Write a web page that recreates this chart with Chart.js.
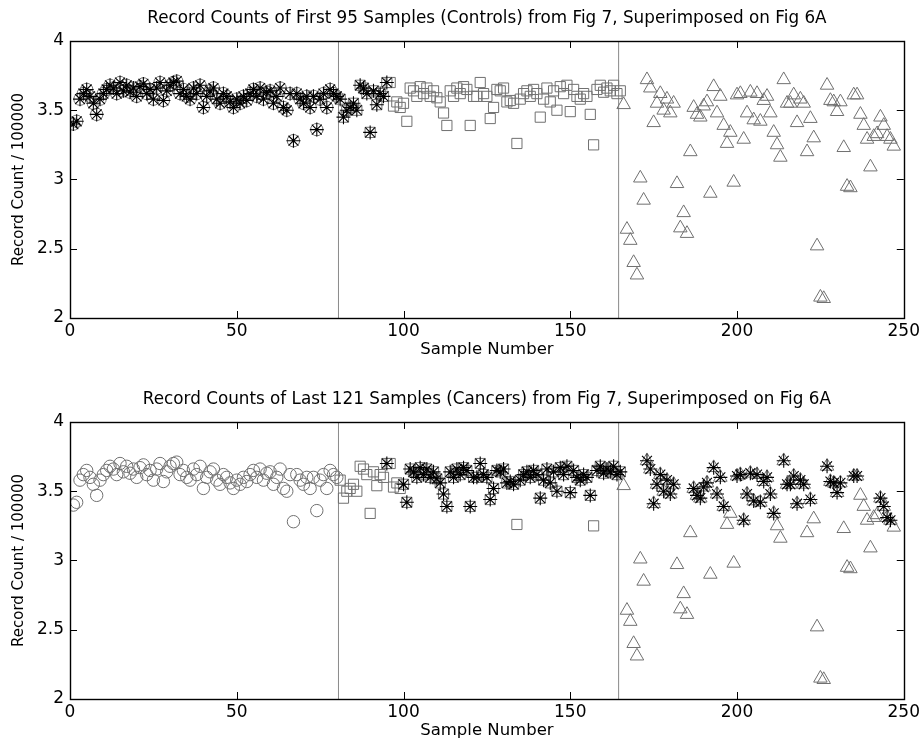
<!DOCTYPE html>
<html>
<head>
<meta charset="utf-8">
<script src="https://cdn.jsdelivr.net/npm/chart.js@4.4.1/dist/chart.umd.min.js"></script>
<style>
html, body { margin: 0; padding: 0; background: #fff; }
.panel { position: absolute; left: 0; width: 923px; height: 367px; }
</style>
</head>
<body>
<div class="panel" style="top:0"><canvas id="topChart"></canvas></div>
<div class="panel" style="top:381px"><canvas id="bottomChart"></canvas></div>
<script>
// Fig 6A record counts (units of 100000)
const circleStart = 1;     // samples 1..80 (circles)
const circleValues = [
    3.40, 3.42, 3.58, 3.62, 3.65, 3.60, 3.55, 3.47, 3.58, 3.62,
    3.65, 3.68, 3.66, 3.62, 3.70, 3.64, 3.68, 3.63, 3.66, 3.60,
    3.67, 3.69, 3.62, 3.65, 3.58, 3.66, 3.70, 3.57, 3.64, 3.68,
    3.70, 3.71, 3.62, 3.65, 3.60, 3.58, 3.66, 3.62, 3.68, 3.52,
    3.60, 3.64, 3.66, 3.58, 3.55, 3.62, 3.60, 3.56, 3.52, 3.58,
    3.55, 3.60, 3.57, 3.62, 3.65, 3.60, 3.66, 3.58, 3.63, 3.64,
    3.55, 3.60, 3.66, 3.52, 3.50, 3.62, 3.28, 3.62, 3.58, 3.55,
    3.60, 3.52, 3.60, 3.36, 3.58, 3.62, 3.52, 3.65, 3.62, 3.60
];
const squareStart = 81;    // samples 81..165 (squares)
const squareValues = [
    3.58, 3.45, 3.50, 3.52, 3.55, 3.50, 3.68, 3.66, 3.62, 3.34,
    3.64, 3.54, 3.62, 3.60, 3.70, 3.70, 3.53, 3.56, 3.52, 3.55,
    3.42, 3.66, 3.64, 3.60, 3.67, 3.62, 3.66, 3.60, 3.64, 3.59,
    3.56, 3.48, 3.39, 3.64, 3.60, 3.66, 3.62, 3.67, 3.65, 3.39,
    3.60, 3.60, 3.70, 3.62, 3.60, 3.44, 3.52, 3.65, 3.64, 3.66,
    3.56, 3.57, 3.55, 3.26, 3.58, 3.62, 3.64, 3.60, 3.65, 3.62,
    3.45, 3.58, 3.66, 3.56, 3.64, 3.50, 3.67, 3.62, 3.68, 3.49,
    3.65, 3.60, 3.58, 3.62, 3.60, 3.47, 3.25, 3.65, 3.68, 3.63,
    3.66, 3.64, 3.68, 3.62, 3.64
];
const triangleStart = 166; // samples 166..247 (triangles)
const triangleValues = [
    3.54, 2.64, 2.56, 2.40, 2.31, 3.01, 2.85, 3.72, 3.66, 3.41,
    3.55, 3.62, 3.50, 3.58, 3.48, 3.55, 2.97, 2.65, 2.76, 2.61,
    3.20, 3.52, 3.47, 3.45, 3.53, 3.56, 2.90, 3.67, 3.48, 3.60,
    3.39, 3.26, 3.34, 2.98, 3.61, 3.62, 3.29, 3.48, 3.63, 3.43,
    3.62, 3.42, 3.57, 3.60, 3.48, 3.34, 3.25, 3.16, 3.72, 3.55,
    3.55, 3.61, 3.41, 3.58, 3.55, 3.20, 3.44, 3.30, 2.52, 2.15,
    2.14, 3.68, 3.57, 3.56, 3.49, 3.56, 3.23, 2.95, 2.94, 3.61,
    3.61, 3.47, 3.39, 3.29, 3.09, 3.31, 3.33, 3.45, 3.39, 3.31,
    3.29, 3.24
];

// Fig 7 samples (asterisks), given as sample numbers
const controlSamples = [];
for (let s = 1; s <= 95; s++) controlSamples.push(s);
const cancerSamples = [
    95, 100, 101, 102, 103, 104, 105, 106, 107, 108, 109, 110, 111, 112, 113,
    114, 115, 116, 117, 118, 119, 120, 121, 122, 123, 124, 125, 126, 127, 128,
    129, 130, 131, 132, 133, 135, 136, 137, 138, 139, 140, 141, 142, 143, 144,
    145, 146, 147, 148, 149, 150, 151, 152, 153, 154, 155, 156, 158, 159, 160,
    161, 162, 163, 164, 165, 173, 174, 175, 176, 177, 178, 179, 180, 181, 187,
    188, 189, 190, 191, 193, 194, 195, 196, 200, 201, 202, 203, 204, 205, 206,
    207, 208, 209, 210, 211, 214, 215, 216, 217, 218, 219, 220, 222, 227, 228,
    229, 230, 231, 235, 236, 243, 244, 245, 246
];

const xTicks = [0, 50, 100, 150, 200, 250];
const yTicks = [2, 2.5, 3, 3.5, 4];
const dividers = [80.5, 164.5];

const FONT = "'DejaVu Sans', 'Liberation Sans', Arial, sans-serif";
const GRAY = "#707070";

function toPoints(values, start) {
    return values.map((v, i) => ({ x: start + i, y: v }));
}

const circles = toPoints(circleValues, circleStart);
const squares = toPoints(squareValues, squareStart);
const triangles = toPoints(triangleValues, triangleStart);
const allPoints = circles.concat(squares, triangles);

function starPoints(samples) {
    return samples.map(s => allPoints.find(p => p.x === s)).filter(p => p);
}

// box around the plot with inward tick marks, like the original figure
const boxTicks = {
    id: "boxTicks",
    afterDraw(chart) {
        const { ctx, chartArea: a, scales } = chart;
        const len = 7;
        ctx.save();
        ctx.strokeStyle = "#000";
        ctx.lineWidth = 1;
        ctx.beginPath();
        xTicks.forEach(v => {
            const px = Math.round(scales.x.getPixelForValue(v)) + 0.5;
            ctx.moveTo(px, a.bottom); ctx.lineTo(px, a.bottom - len);
            ctx.moveTo(px, a.top); ctx.lineTo(px, a.top + len);
        });
        yTicks.forEach(v => {
            const py = Math.round(scales.y.getPixelForValue(v)) + 0.5;
            ctx.moveTo(a.left, py); ctx.lineTo(a.left + len, py);
            ctx.moveTo(a.right, py); ctx.lineTo(a.right - len, py);
        });
        ctx.stroke();
        ctx.lineWidth = 1.4;
        ctx.strokeRect(Math.round(a.left) + 0.5, Math.round(a.top) + 0.5,
            Math.round(a.right - a.left), Math.round(a.bottom - a.top));
        ctx.restore();
    }
};

function makeChart(id, title, stars) {
    const datasets = [
        { data: stars, pointStyle: "star", pointRadius: 7, borderColor: "#000", borderWidth: 1.1, order: 0 },
        { data: circles, pointStyle: "circle", pointRadius: 6.2, borderColor: GRAY, borderWidth: 1, order: 1 },
        { data: squares, pointStyle: "rect", pointRadius: 7.2, borderColor: GRAY, borderWidth: 1, order: 1 },
        { data: triangles, pointStyle: "triangle", pointRadius: 7.8, borderColor: GRAY, borderWidth: 1, order: 1 }
    ];
    dividers.forEach(d => {
        datasets.push({
            type: "line", data: [{ x: d, y: 2 }, { x: d, y: 4 }],
            borderColor: "#8a8a8a", borderWidth: 1, pointRadius: 0, order: 2
        });
    });
    datasets.forEach(ds => { ds.backgroundColor = "rgba(0,0,0,0)"; ds.pointHoverRadius = ds.pointRadius; });

    return new Chart(document.getElementById(id), {
        type: "scatter",
        data: { datasets },
        plugins: [boxTicks],
        options: {
            responsive: true,
            maintainAspectRatio: false,
            animation: false,
            events: [],
            layout: { padding: { left: 10, right: 18, top: 0, bottom: 7 } },
            plugins: {
                legend: { display: false },
                tooltip: { enabled: false },
                title: {
                    display: true, text: title, color: "#000", fullSize: false,
                    font: { family: FONT, size: 16.8, weight: "normal" },
                    padding: { top: 9, bottom: 11.8 }
                }
            },
            scales: {
                x: {
                    type: "linear", min: 0, max: 250,
                    afterBuildTicks: s => { s.ticks = xTicks.map(v => ({ value: v })); },
                    afterFit: s => { s.height = 42; },
                    grid: { display: false, drawTicks: false },
                    border: { display: false },
                    ticks: { color: "#000", padding: 3, maxRotation: 0, font: { family: FONT, size: 17 },
                        callback: v => String(v) },
                    title: { display: true, text: "Sample Number", color: "#000", padding: 0, font: { family: FONT, size: 16.5 } }
                },
                y: {
                    type: "linear", min: 2, max: 4,
                    afterBuildTicks: s => { s.ticks = yTicks.map(v => ({ value: v })); },
                    afterFit: s => { s.width = 60; },
                    grid: { display: false, drawTicks: false },
                    border: { display: false },
                    ticks: { color: "#000", padding: 6, font: { family: FONT, size: 17 },
                        callback: v => String(v) },
                    title: { display: true, text: "Record Count / 100000", color: "#000", padding: 0, font: { family: FONT, size: 15 } }
                }
            }
        }
    });
}

makeChart("topChart", "Record Counts of First 95 Samples (Controls) from Fig 7, Superimposed on Fig 6A", starPoints(controlSamples));
makeChart("bottomChart", "Record Counts of Last 121 Samples (Cancers) from Fig 7, Superimposed on Fig 6A", starPoints(cancerSamples));
</script>
</body>
</html>
